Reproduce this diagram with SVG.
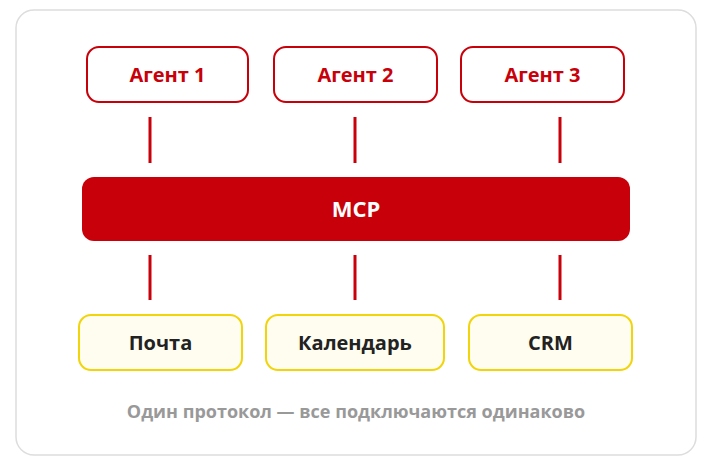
<svg xmlns="http://www.w3.org/2000/svg" width="709" height="466" viewBox="0 0 709 466">
<style>
.agent rect{fill:#fff;stroke:#c8000a;stroke-width:2}
.agent text{fill:#c8000a;font:bold 20px "Open Sans","Liberation Sans",sans-serif;text-anchor:middle}
.svc rect{fill:#fffdf0;stroke:#f2d40a;stroke-width:2}
.svc text{fill:#222;font:bold 20px "Open Sans","Liberation Sans",sans-serif;text-anchor:middle}
.conn line{stroke:#c8000a;stroke-width:3}
</style>
<rect x="0" y="0" width="709" height="466" fill="#fff"/>
<rect x="16" y="10" width="680" height="445" rx="18" fill="#fff" stroke="#ddd" stroke-width="1.5"/>
<g id="agent1" class="agent"><rect x="87" y="47" width="161" height="55" rx="12"/><text x="167.5" y="82">Агент 1</text></g>
<g id="agent2" class="agent"><rect x="274" y="47" width="163" height="55" rx="12"/><text x="355.5" y="82">Агент 2</text></g>
<g id="agent3" class="agent"><rect x="461" y="47" width="163" height="55" rx="12"/><text x="542.5" y="82">Агент 3</text></g>
<g class="conn">
<line x1="150" y1="117" x2="150" y2="163"/><line x1="355" y1="117" x2="355" y2="163"/><line x1="560" y1="117" x2="560" y2="163"/>
<line x1="150" y1="255" x2="150" y2="300"/><line x1="355" y1="255" x2="355" y2="300"/><line x1="560" y1="255" x2="560" y2="300"/>
</g>
<g id="mcp"><rect x="82" y="177" width="548" height="64" rx="12" fill="#c8000a"/><text x="356" y="217" fill="#fff" font-family="Open Sans, Liberation Sans, sans-serif" font-weight="bold" font-size="22" text-anchor="middle">MCP</text></g>
<g id="mail" class="svc"><rect x="79" y="315" width="163" height="55" rx="12"/><text x="160.5" y="350">Почта</text></g>
<g id="calendar" class="svc"><rect x="266" y="315" width="178" height="55" rx="12"/><text x="355" y="350">Календарь</text></g>
<g id="crm" class="svc"><rect x="469" y="315" width="163" height="55" rx="12"/><text x="550.5" y="350">CRM</text></g>
<text x="356" y="418" fill="#999" font-family="Open Sans, Liberation Sans, sans-serif" font-weight="bold" font-size="18" text-anchor="middle">Один протокол — все подключаются одинаково</text>
</svg>
